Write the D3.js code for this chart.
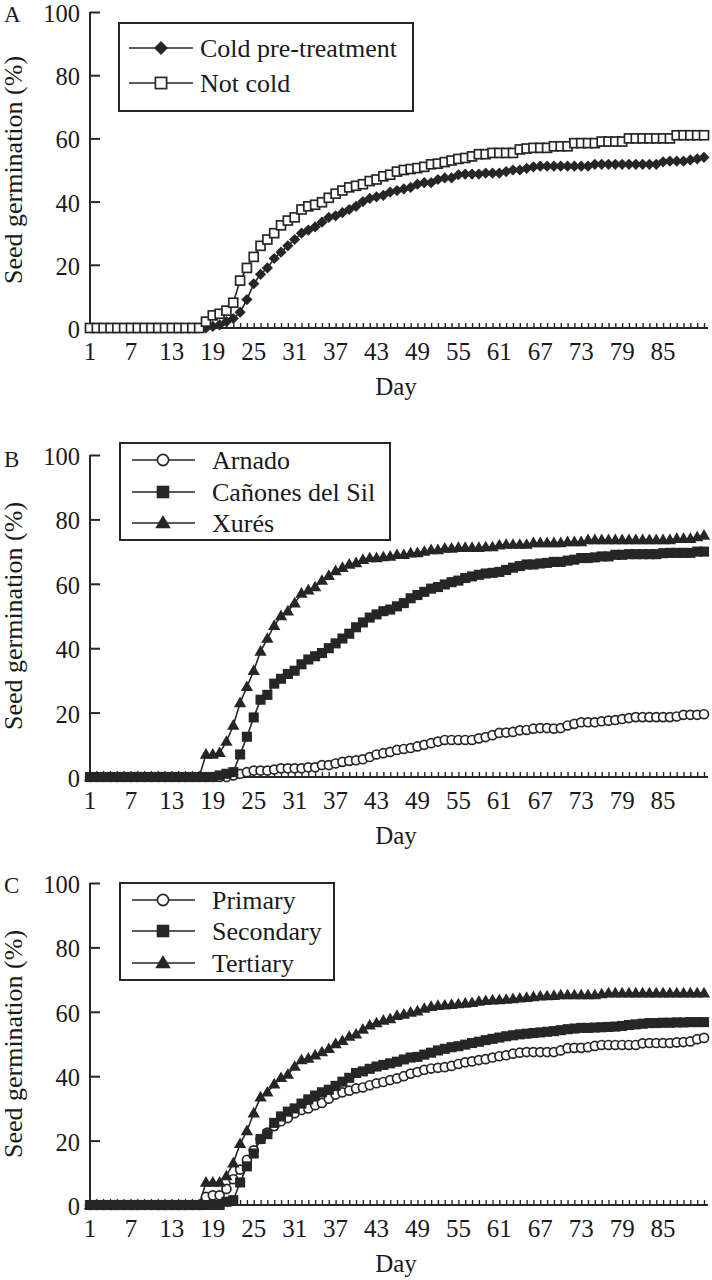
<!DOCTYPE html>
<html><head><meta charset="utf-8">
<script src="https://cdn.jsdelivr.net/npm/d3@7"></script>
<style>body{margin:0;background:#fff}svg{display:block}text{font-family:"Liberation Serif","Times New Roman",serif;fill:#1a1a1a}</style>
</head><body><svg id="c" width="712" height="1280"></svg>
<script>
const days = d3.range(1, 92);
const xTickLabels = [1,7,13,19,25,31,37,43,49,55,61,67,73,79,85];
const yTicks = [0,20,40,60,80,100];

const coldPre = [0,0,0,0,0,0,0,0,0,0,0,0,0,0,0,0,0,0,0.5,1,2,3,5,9,14,17,19,22,24,26,28,30,31,32,33.5,35,35.5,36.5,37.5,38.5,40,41,41.5,42,43,43.5,44,44.5,45.5,46,46,47,47.5,47.5,48.5,48.7,48.7,48.7,49,49,49,49.5,50,50,50.5,51,51.2,51.2,51.2,51.2,51.2,51.2,51.2,51.2,51.8,51.8,51.8,51.8,51.8,51.8,51.8,51.8,51.8,51.8,52.6,52.8,52.8,52.8,53.2,53.5,54];
const notCold = [0,0,0,0,0,0,0,0,0,0,0,0,0,0,0,0,0,2,4,4.5,5.5,8,15,19,22.5,26,28,30,32.5,34,35,37.5,38.5,39,39.8,41.2,42.5,43.5,44.5,45,45.5,46.5,47,48,48.5,49.5,50,50.3,50.6,51,51.8,52,52.5,53,53.5,53.8,54.3,55,55,55.4,55.4,55.4,55.4,56.5,56.8,57,57,57,57.5,57.5,57.5,58.5,58.5,58.5,58.5,59,59,59,59,60,60,60,60,60,60,60,61,61,61,61,61];

const arnado = [0,0,0,0,0,0,0,0,0,0,0,0,0,0,0,0,0,0,0,0,0,0.5,1,1.5,2,2,2,2.3,2.7,2.7,2.7,2.7,3,3,3.7,3.7,4.2,4.7,5,5.2,5.5,6.2,7,7.4,7.8,8.4,8.7,9,9.5,10,10.5,11,11.5,11.5,11.5,11.5,11.5,12,12.4,13,13.7,13.8,14,14.5,14.6,15,15.2,15.2,15,15.2,16,16.5,17,17,17,17.3,17.5,17.7,18,18.3,18.6,18.6,18.6,18.6,18.6,18.6,18.8,19.3,19.3,19.3,19.5];
const canones = [0,0,0,0,0,0,0,0,0,0,0,0,0,0,0,0,0,0,0,0.5,1,1.5,7,12.5,18.5,24,25.5,29,30.5,32,33,35,36.5,37.5,38.5,40,41.5,43,44.5,46.5,48,49.5,50.5,51.5,52,53,54,55.5,56.5,57.5,58.5,59,59.8,60.5,61,61.8,62.3,62.8,63.2,63.4,63.7,64.3,65,65.5,66,66,66.3,66.5,66.8,66.8,67.2,67.5,68,68,68.2,68.5,68.5,69,69,69.2,69.2,69.2,69.2,69.2,69.5,69.6,69.6,69.6,69.6,70,70];
const xures = [0,0,0,0,0,0,0,0,0,0,0,0,0,0,0,0,0,7,7,7.5,11,16,23,28,33,39,43,47,50,51.5,54,57,58,59,61,62.5,64,65,66,66.5,67.5,68,68,68.3,68.5,69,69,69.5,69.6,70,70.5,70.5,71,71,71.2,71.2,71.2,71.2,71.4,71.4,72,72.2,72.2,72.2,72.2,72.7,72.7,72.7,72.7,72.7,73,73,73,73.6,73.6,73.6,73.6,73.6,73.6,73.6,73.6,73.6,73.6,73.6,73.6,73.6,74,74,74,74.5,75];

const primary = [0,0,0,0,0,0,0,0,0,0,0,0,0,0,0,0,0,2.5,3,3,5,8,11,14,17,20.5,22.5,24.5,26,27,28.5,29.5,30,31,31.7,33,34.3,35,35.5,36.2,36.5,37.2,37.8,38.2,38.8,39.3,40,40.8,41.3,42,42.4,42.6,42.8,43.2,43.8,44.3,44.6,45,45.3,45.8,46.2,46.5,47,47.3,47.5,47.5,47.5,47.5,47.5,48,48.7,48.8,48.8,49,49.4,49.7,49.7,49.7,49.7,49.7,49.7,50.2,50.3,50.3,50.3,50.3,50.5,50.6,50.8,51.5,51.9];
const secondary = [0,0,0,0,0,0,0,0,0,0,0,0,0,0,0,0,0,0,0,0,1,1.5,7,12,16,20.5,22,25.5,27.5,29,30,31.5,32.8,34,35,35.8,37,38.3,39.5,41,41.5,42.3,43,43.5,44,44.5,45.2,45.8,46,46.7,47.3,48,48.5,49,49.3,49.8,50.3,50.7,51.2,51.6,52,52.4,52.7,53,53.2,53.4,53.6,53.8,54,54.3,54.6,54.8,55,55,55.1,55.2,55.3,55.4,55.6,55.9,56.1,56.3,56.5,56.5,56.6,56.6,56.7,56.7,56.8,56.8,56.8];
const tertiary = [0,0,0,0,0,0,0,0,0,0,0,0,0,0,0,0,0,7,7,7,9,13,19,23,28.5,33.5,35,37.5,39.5,40.5,43,45,45.5,46.5,47.5,48.5,50,51,52.3,53,54.5,55.8,56.5,57.3,57.8,58.8,59.2,59.8,60.2,61,61.6,61.9,62,62.2,62.4,62.6,62.8,63.2,63.4,63.6,63.7,63.8,64,64.2,64.4,64.6,64.8,64.9,65,65.2,65.2,65.2,65.2,65.2,65.2,65.5,65.8,65.8,65.8,65.8,65.8,65.8,65.8,65.8,65.8,65.8,65.8,65.8,65.8,65.8,65.8];

const yTitle = "Seed germination (%)";
const xTitle = "Day";

const panels = [
  {letter:"A", top:12, bottom:328, letterY:22,
   legend:{x0:119,x1:413,y0:23,y1:111,rows:[48,83],lx0:129,lx1:193,mx:161,tx:200},
   series:[{name:"Cold pre-treatment",data:coldPre,m:"diamond"},{name:"Not cold",data:notCold,m:"osquare"}]},
  {letter:"B", top:455, bottom:777, letterY:467,
   legend:{x0:120,x1:390,y0:443,y1:540,rows:[460,492,523],lx0:132,lx1:195,mx:163,tx:212},
   series:[{name:"Arnado",data:arnado,m:"ocircle"},{name:"Cañones del Sil",data:canones,m:"square"},{name:"Xurés",data:xures,m:"triangle"}]},
  {letter:"C", top:883, bottom:1205, letterY:893,
   legend:{x0:120,x1:334,y0:883,y1:980,rows:[900,931,963],lx0:132,lx1:195,mx:163,tx:212},
   series:[{name:"Primary",data:primary,m:"ocircle"},{name:"Secondary",data:secondary,m:"square"},{name:"Tertiary",data:tertiary,m:"triangle"}]}
];

const ink = "#262626";
const svg = d3.select("#c");
const x = d3.scaleLinear().domain([1, 91]).range([90, 704]);

function marker(g, type, cx, cy, s) {
  if (type === "diamond") {
    g.append("path").attr("d", `M${cx},${cy-s}L${cx+s},${cy}L${cx},${cy+s}L${cx-s},${cy}Z`).attr("fill", ink);
  } else if (type === "osquare") {
    g.append("rect").attr("x", cx-s*0.8).attr("y", cy-s*0.8).attr("width", s*1.6).attr("height", s*1.6)
      .attr("fill", "#fff").attr("stroke", ink).attr("stroke-width", 1.7);
  } else if (type === "square") {
    g.append("rect").attr("x", cx-s*0.9).attr("y", cy-s*0.9).attr("width", s*1.8).attr("height", s*1.8).attr("fill", ink);
  } else if (type === "ocircle") {
    g.append("circle").attr("cx", cx).attr("cy", cy).attr("r", s*0.8).attr("fill", "#fff").attr("stroke", ink).attr("stroke-width", 1.7);
  } else if (type === "triangle") {
    const h = s*1.9, w = s*1.1;
    g.append("path").attr("d", `M${cx},${cy-h*0.6}L${cx+w},${cy+h*0.4}L${cx-w},${cy+h*0.4}Z`).attr("fill", ink);
  }
}

panels.forEach(p => {
  const y = d3.scaleLinear().domain([0, 100]).range([p.bottom, p.top]);
  const g = svg.append("g");

  const ya = g.append("g").attr("transform", "translate(90,0)")
    .call(d3.axisRight(y).tickValues(yTicks).tickSize(10).tickFormat(""));
  ya.select(".domain").attr("stroke", ink).attr("stroke-width", 2).attr("d", `M0,${p.top}V${p.bottom}`);
  ya.selectAll(".tick line").attr("stroke", ink).attr("stroke-width", 2);
  g.selectAll(".ylab").data(yTicks).enter().append("text")
    .attr("x", 80).attr("y", d => y(d) + 10).attr("text-anchor", "end")
    .attr("font-size", 24.5).text(d => d);

  const xa = g.append("g").attr("transform", `translate(0,${p.bottom})`)
    .call(d3.axisTop(x).tickValues(days).tickSize(5).tickFormat(""));
  xa.select(".domain").attr("stroke", ink).attr("stroke-width", 2).attr("d", `M90,0H708`);
  xa.selectAll(".tick line").attr("stroke", ink).attr("stroke-width", 1.4);
  g.selectAll(".xlab").data(xTickLabels).enter().append("text")
    .attr("x", d => x(d)).attr("y", p.bottom + 32).attr("text-anchor", "middle")
    .attr("font-size", 25).text(d => d);
  g.append("text").attr("x", 396).attr("y", p.bottom + 67).attr("text-anchor", "middle")
    .attr("font-size", 25).text(xTitle);

  g.append("text").attr("transform", `translate(22,${(p.top+p.bottom)/2}) rotate(-90)`)
    .attr("text-anchor", "middle").attr("font-size", 26).text(yTitle);
  g.append("text").attr("x", 4).attr("y", p.letterY).attr("font-size", 23).text(p.letter);

  const line = d3.line().x((d, i) => x(days[i])).y(d => y(d));
  p.series.forEach(s => {
    g.append("path").attr("d", line(s.data)).attr("fill", "none").attr("stroke", ink).attr("stroke-width", 1.6);
  });
  p.series.forEach(s => {
    const mg = g.append("g");
    s.data.forEach((v, i) => marker(mg, s.m, x(days[i]), y(v), 5.6));
  });

  const L = p.legend;
  g.append("rect").attr("x", L.x0).attr("y", L.y0).attr("width", L.x1-L.x0).attr("height", L.y1-L.y0)
    .attr("fill", "#fff").attr("stroke", ink).attr("stroke-width", 2);
  p.series.forEach((s, i) => {
    const ry = L.rows[i];
    g.append("line").attr("x1", L.lx0).attr("x2", L.lx1).attr("y1", ry).attr("y2", ry).attr("stroke", ink).attr("stroke-width", 1.6);
    marker(g, s.m, L.mx, ry, 7);
    g.append("text").attr("x", L.tx).attr("y", ry).attr("dy", "0.33em").attr("font-size", 26).text(s.name);
  });
});
</script></body></html>
